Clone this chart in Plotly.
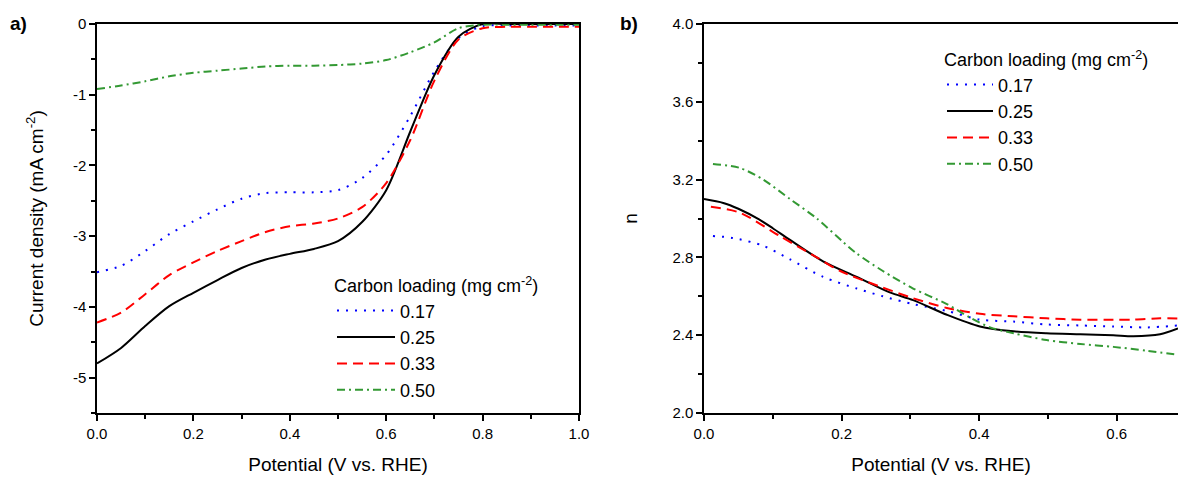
import plotly.graph_objects as go

# ---------------- data: panel a (LSV curves) ----------------
series_names = ["0.17", "0.25", "0.33", "0.50"]

a_x = [0.0, 0.05, 0.1, 0.15, 0.2, 0.25, 0.3, 0.35, 0.4, 0.45, 0.5, 0.55, 0.6, 0.65, 0.7, 0.75, 0.8, 0.85, 0.9, 0.95, 1.0]
a_y_017 = [-3.51, -3.42, -3.21, -2.97, -2.79, -2.62, -2.47, -2.39, -2.38, -2.38, -2.35, -2.18, -1.85, -1.30, -0.67, -0.20, -0.03, -0.02, -0.02, -0.02, -0.02]
a_y_025 = [-4.80, -4.58, -4.27, -3.99, -3.80, -3.62, -3.45, -3.33, -3.25, -3.18, -3.07, -2.80, -2.35, -1.52, -0.72, -0.18, 0.0, 0.0, 0.0, 0.0, 0.0]
a_y_033 = [-4.22, -4.08, -3.82, -3.55, -3.37, -3.21, -3.07, -2.94, -2.86, -2.82, -2.75, -2.59, -2.25, -1.64, -0.80, -0.22, -0.06, -0.04, -0.04, -0.04, -0.04]
a_y_050 = [-0.92, -0.87, -0.81, -0.74, -0.69, -0.66, -0.63, -0.60, -0.59, -0.59, -0.58, -0.56, -0.51, -0.40, -0.26, -0.06, -0.01, -0.01, -0.01, -0.01, -0.01]

# ---------------- data: panel b (electron transfer number) ----------------
b_x_017 = [0.013, 0.042, 0.086, 0.125, 0.173, 0.222, 0.26, 0.304, 0.353, 0.401, 0.45, 0.498, 0.547, 0.595, 0.644, 0.689]
b_y_017 = [2.91, 2.90, 2.86, 2.79, 2.70, 2.64, 2.60, 2.56, 2.525, 2.48, 2.47, 2.455, 2.45, 2.445, 2.44, 2.45]

b_x_025 = [0.0, 0.028, 0.05, 0.08, 0.1, 0.125, 0.173, 0.222, 0.27, 0.304, 0.353, 0.401, 0.45, 0.498, 0.547, 0.595, 0.624, 0.663, 0.689]
b_y_025 = [3.10, 3.08, 3.05, 2.995, 2.95, 2.89, 2.78, 2.70, 2.62, 2.58, 2.505, 2.445, 2.42, 2.41, 2.405, 2.40, 2.395, 2.405, 2.435]

b_x_033 = [0.01, 0.052, 0.11, 0.164, 0.198, 0.256, 0.304, 0.353, 0.401, 0.45, 0.498, 0.547, 0.595, 0.624, 0.663, 0.689]
b_y_033 = [3.06, 3.03, 2.91, 2.80, 2.73, 2.65, 2.59, 2.54, 2.51, 2.497, 2.487, 2.48, 2.48, 2.48, 2.487, 2.486]

b_x_050 = [0.013, 0.052, 0.086, 0.125, 0.164, 0.202, 0.222, 0.26, 0.304, 0.353, 0.387, 0.416, 0.45, 0.498, 0.547, 0.595, 0.644, 0.689]
b_y_050 = [3.28, 3.26, 3.20, 3.10, 3.00, 2.88, 2.82, 2.73, 2.64, 2.56, 2.49, 2.44, 2.41, 2.375, 2.355, 2.34, 2.32, 2.30]

a_ytick_vals = [0, -1, -2, -3, -4, -5]
a_ytick_text = ["0", "-1", "-2", "-3", "-4", "-5"]

colors = ["#0000FF", "#000000", "#FF0000", "#339933"]
dashes = ["2px,7px", "solid", "10px,6px", "8px,4px,2px,4px"]
widths = [2, 2, 2, 2]

FONT = "Liberation Sans, Arial, sans-serif"

fig = go.Figure()

a_data = [(a_x, a_y_017), (a_x, a_y_025), (a_x, a_y_033), (a_x, a_y_050)]
b_data = [(b_x_017, b_y_017), (b_x_025, b_y_025), (b_x_033, b_y_033), (b_x_050, b_y_050)]

for i, (xs, ys) in enumerate(a_data):
    fig.add_trace(go.Scatter(x=xs, y=ys, mode="lines", name=series_names[i],
                             line=dict(color=colors[i], dash=dashes[i], width=widths[i], shape="spline", smoothing=0.8),
                             xaxis="x", yaxis="y", legend="legend"))
for i, (xs, ys) in enumerate(b_data):
    fig.add_trace(go.Scatter(x=xs, y=ys, mode="lines", name=series_names[i],
                             line=dict(color=colors[i], dash=dashes[i], width=widths[i], shape="spline", smoothing=0.8),
                             xaxis="x2", yaxis="y2", legend="legend2"))

W, H = 1178, 477
ydom = [(H - 413) / H, (H - 24) / H]

axis_common = dict(showgrid=False, zeroline=False, showline=True, linecolor="black", linewidth=1.5,
                   mirror=True, ticks="outside", ticklen=6, tickwidth=1.5, tickcolor="black",
                   automargin=False,
                   tickfont=dict(family=FONT, size=15, color="black"))

TITLE_FONT = dict(family=FONT, size=19, color="black")

fig.update_layout(
    width=W, height=H,
    margin=dict(l=0, r=0, t=0, b=0),
    plot_bgcolor="white", paper_bgcolor="white",
    font=dict(family=FONT, color="black"),
    xaxis=dict(domain=[97 / W, 579 / W], range=[0, 1.0], dtick=0.2, tickformat=".1f",
               minor=dict(dtick=0.1, ticklen=4, tickcolor="black", ticks="outside", showgrid=False),
               title=dict(text="Potential (V vs. RHE)", font=TITLE_FONT, standoff=17),
               anchor="y", **axis_common),
    yaxis=dict(domain=ydom, range=[-5.5, 0], tickvals=a_ytick_vals, ticktext=a_ytick_text,
               minor=dict(dtick=0.5, ticklen=4, tickcolor="black", ticks="outside", showgrid=False),
               title=dict(text="Current density (mA cm<sup>-2</sup>)", font=TITLE_FONT, standoff=24),
               anchor="x", **axis_common),
    xaxis2=dict(domain=[704 / W, 1.0], range=[0, 0.689], dtick=0.2, tickformat=".1f",
                minor=dict(dtick=0.1, ticklen=4, tickcolor="black", ticks="outside", showgrid=False),
                title=dict(text="Potential (V vs. RHE)", font=TITLE_FONT, standoff=17),
                anchor="y2", **axis_common),
    yaxis2=dict(domain=ydom, range=[2.0, 4.0], dtick=0.4, tickformat=".1f",
                minor=dict(dtick=0.2, ticklen=4, tickcolor="black", ticks="outside", showgrid=False),
                title=dict(text="n", font=TITLE_FONT, standoff=30),
                anchor="x2", **axis_common),
    legend=dict(x=332 / W, y=(H - 269) / H, xanchor="left", yanchor="top",
                bgcolor="rgba(0,0,0,0)", borderwidth=0,
                title=dict(text="Carbon loading (mg cm<sup>-2</sup>)", font=dict(family=FONT, size=18)),
                font=dict(family=FONT, size=18), tracegroupgap=0, itemwidth=58),
    legend2=dict(x=942 / W, y=(H - 43) / H, xanchor="left", yanchor="top",
                 bgcolor="rgba(0,0,0,0)", borderwidth=0,
                 title=dict(text="Carbon loading (mg cm<sup>-2</sup>)", font=dict(family=FONT, size=18)),
                 font=dict(family=FONT, size=18), tracegroupgap=0, itemwidth=46),
    annotations=[
        dict(text="<b>a)</b>", x=8 / W, y=(H - 24) / H, xref="paper", yref="paper",
             xanchor="left", yanchor="middle", showarrow=False, font=dict(family=FONT, size=19)),
        dict(text="<b>b)</b>", x=618 / W, y=(H - 24) / H, xref="paper", yref="paper",
             xanchor="left", yanchor="middle", showarrow=False, font=dict(family=FONT, size=19)),
    ],
)

fig.write_html("out.html", config={"displayModeBar": False},
               post_script="document.body.style.margin='0';document.body.style.overflow='hidden';")
